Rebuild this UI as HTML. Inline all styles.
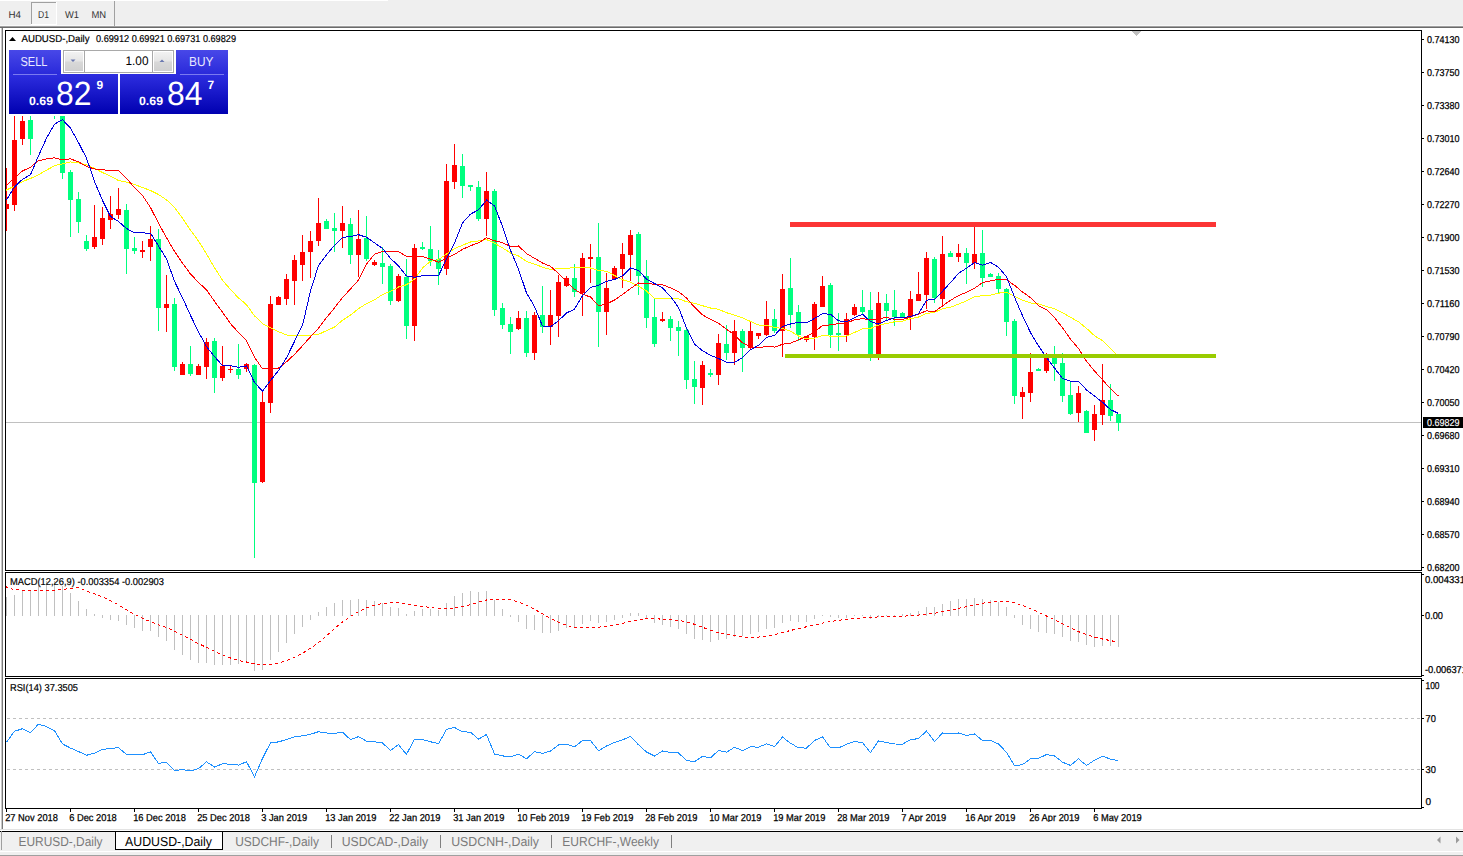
<!DOCTYPE html><html><head><meta charset="utf-8"><title>MT4</title><style>html,body{margin:0;padding:0;width:1463px;height:856px;overflow:hidden;background:#fff}svg text{font-family:"Liberation Sans",sans-serif}</style></head><body>
<svg width="1463" height="856" style="position:absolute;left:0;top:0;display:block" shape-rendering="crispEdges" text-rendering="geometricPrecision">
<rect x="0" y="0" width="1463" height="26" fill="#EFEFEF"/>
<rect x="0" y="0" width="388" height="1" fill="#FFFFFF"/>
<rect x="0" y="25" width="1463" height="1" fill="#F8F8F8"/>
<rect x="0" y="26" width="1463" height="1" fill="#A0A0A0"/>
<rect x="0" y="27" width="1463" height="1" fill="#6A6A6A"/>
<rect x="31" y="2" width="26" height="23" fill="#FFFFFF"/>
<rect x="32" y="3" width="24" height="21" fill="#F3F3F3"/>
<rect x="31" y="2" width="25" height="1" fill="#A0A0A0"/>
<rect x="31" y="2" width="1" height="22" fill="#A0A0A0"/>
<rect x="114" y="1" width="1" height="25" fill="#A0A0A0"/>
<text x="8.5" y="18" font-size="10" fill="#333333" textLength="12.5" lengthAdjust="spacingAndGlyphs">H4</text>
<text x="38" y="18" font-size="10" fill="#333333" textLength="11" lengthAdjust="spacingAndGlyphs">D1</text>
<text x="65" y="18" font-size="10" fill="#333333" textLength="14" lengthAdjust="spacingAndGlyphs">W1</text>
<text x="91.5" y="18" font-size="10" fill="#333333" textLength="14.7" lengthAdjust="spacingAndGlyphs">MN</text>
<rect x="1" y="28" width="1" height="801" fill="#C8C8C8"/>
<rect x="2" y="28" width="1" height="801" fill="#7A7A7A"/>
<rect x="5" y="30" width="1417" height="1" fill="#000"/>
<rect x="5" y="570" width="1417" height="1" fill="#000"/>
<rect x="5" y="30" width="1" height="541" fill="#000"/>
<rect x="1421" y="30" width="1" height="541" fill="#000"/>
<rect x="5" y="572" width="1417" height="1" fill="#000"/>
<rect x="5" y="676" width="1417" height="1" fill="#000"/>
<rect x="5" y="572" width="1" height="105" fill="#000"/>
<rect x="1421" y="572" width="1" height="105" fill="#000"/>
<rect x="5" y="678" width="1417" height="1" fill="#000"/>
<rect x="5" y="808" width="1417" height="1" fill="#000"/>
<rect x="5" y="678" width="1" height="131" fill="#000"/>
<rect x="1421" y="678" width="1" height="131" fill="#000"/>
<rect x="1422" y="39" width="2" height="1" fill="#000"/>
<text x="1427" y="43" font-size="10" fill="#000" stroke="#000" stroke-width="0.25" textLength="32.5" lengthAdjust="spacingAndGlyphs">0.74130</text>
<rect x="1422" y="72" width="2" height="1" fill="#000"/>
<text x="1427" y="76" font-size="10" fill="#000" stroke="#000" stroke-width="0.25" textLength="32.5" lengthAdjust="spacingAndGlyphs">0.73750</text>
<rect x="1422" y="105" width="2" height="1" fill="#000"/>
<text x="1427" y="109" font-size="10" fill="#000" stroke="#000" stroke-width="0.25" textLength="32.5" lengthAdjust="spacingAndGlyphs">0.73380</text>
<rect x="1422" y="138" width="2" height="1" fill="#000"/>
<text x="1427" y="142" font-size="10" fill="#000" stroke="#000" stroke-width="0.25" textLength="32.5" lengthAdjust="spacingAndGlyphs">0.73010</text>
<rect x="1422" y="171" width="2" height="1" fill="#000"/>
<text x="1427" y="175" font-size="10" fill="#000" stroke="#000" stroke-width="0.25" textLength="32.5" lengthAdjust="spacingAndGlyphs">0.72640</text>
<rect x="1422" y="204" width="2" height="1" fill="#000"/>
<text x="1427" y="208" font-size="10" fill="#000" stroke="#000" stroke-width="0.25" textLength="32.5" lengthAdjust="spacingAndGlyphs">0.72270</text>
<rect x="1422" y="237" width="2" height="1" fill="#000"/>
<text x="1427" y="241" font-size="10" fill="#000" stroke="#000" stroke-width="0.25" textLength="32.5" lengthAdjust="spacingAndGlyphs">0.71900</text>
<rect x="1422" y="270" width="2" height="1" fill="#000"/>
<text x="1427" y="274" font-size="10" fill="#000" stroke="#000" stroke-width="0.25" textLength="32.5" lengthAdjust="spacingAndGlyphs">0.71530</text>
<rect x="1422" y="303" width="2" height="1" fill="#000"/>
<text x="1427" y="307" font-size="10" fill="#000" stroke="#000" stroke-width="0.25" textLength="32.5" lengthAdjust="spacingAndGlyphs">0.71160</text>
<rect x="1422" y="336" width="2" height="1" fill="#000"/>
<text x="1427" y="340" font-size="10" fill="#000" stroke="#000" stroke-width="0.25" textLength="32.5" lengthAdjust="spacingAndGlyphs">0.70790</text>
<rect x="1422" y="369" width="2" height="1" fill="#000"/>
<text x="1427" y="373" font-size="10" fill="#000" stroke="#000" stroke-width="0.25" textLength="32.5" lengthAdjust="spacingAndGlyphs">0.70420</text>
<rect x="1422" y="402" width="2" height="1" fill="#000"/>
<text x="1427" y="406" font-size="10" fill="#000" stroke="#000" stroke-width="0.25" textLength="32.5" lengthAdjust="spacingAndGlyphs">0.70050</text>
<rect x="1422" y="435" width="2" height="1" fill="#000"/>
<text x="1427" y="439" font-size="10" fill="#000" stroke="#000" stroke-width="0.25" textLength="32.5" lengthAdjust="spacingAndGlyphs">0.69680</text>
<rect x="1422" y="468" width="2" height="1" fill="#000"/>
<text x="1427" y="472" font-size="10" fill="#000" stroke="#000" stroke-width="0.25" textLength="32.5" lengthAdjust="spacingAndGlyphs">0.69310</text>
<rect x="1422" y="501" width="2" height="1" fill="#000"/>
<text x="1427" y="505" font-size="10" fill="#000" stroke="#000" stroke-width="0.25" textLength="32.5" lengthAdjust="spacingAndGlyphs">0.68940</text>
<rect x="1422" y="534" width="2" height="1" fill="#000"/>
<text x="1427" y="538" font-size="10" fill="#000" stroke="#000" stroke-width="0.25" textLength="32.5" lengthAdjust="spacingAndGlyphs">0.68570</text>
<rect x="1422" y="567" width="2" height="1" fill="#000"/>
<text x="1427" y="571" font-size="10" fill="#000" stroke="#000" stroke-width="0.25" textLength="32.5" lengthAdjust="spacingAndGlyphs">0.68200</text>
<rect x="6" y="422" width="1415" height="1" fill="#C0C0C0"/>
<rect x="1423" y="417" width="40" height="11" fill="#000"/>
<text x="1427" y="426" font-size="10" fill="#fff" stroke="#fff" stroke-width="0.15" textLength="32.5" lengthAdjust="spacingAndGlyphs">0.69829</text>
<rect x="1422" y="574" width="2" height="1" fill="#000"/>
<rect x="1422" y="615" width="2" height="1" fill="#000"/>
<rect x="1422" y="675" width="2" height="1" fill="#000"/>
<text x="1425" y="583" font-size="10" fill="#000" stroke="#000" stroke-width="0.25" textLength="40" lengthAdjust="spacingAndGlyphs">0.004331</text>
<text x="1425" y="619" font-size="10" fill="#000" stroke="#000" stroke-width="0.25" textLength="18" lengthAdjust="spacingAndGlyphs">0.00</text>
<text x="1425" y="673" font-size="10" fill="#000" stroke="#000" stroke-width="0.25" textLength="42" lengthAdjust="spacingAndGlyphs">-0.006371</text>
<rect x="1422" y="680" width="2" height="1" fill="#000"/>
<rect x="1422" y="718" width="2" height="1" fill="#000"/>
<rect x="1422" y="769" width="2" height="1" fill="#000"/>
<rect x="1422" y="807" width="2" height="1" fill="#000"/>
<text x="1425.5" y="689" font-size="10" fill="#000" stroke="#000" stroke-width="0.25" textLength="14" lengthAdjust="spacingAndGlyphs">100</text>
<text x="1425.5" y="722" font-size="10" fill="#000" stroke="#000" stroke-width="0.25" textLength="10.34" lengthAdjust="spacingAndGlyphs">70</text>
<text x="1425.5" y="773" font-size="10" fill="#000" stroke="#000" stroke-width="0.25" textLength="10.34" lengthAdjust="spacingAndGlyphs">30</text>
<text x="1425.5" y="805" font-size="10" fill="#000" stroke="#000" stroke-width="0.25">0</text>
<rect x="6" y="809" width="1" height="3" fill="#000"/>
<text x="5.2" y="821" font-size="10" fill="#000" stroke="#000" stroke-width="0.25" textLength="52.74" lengthAdjust="spacingAndGlyphs">27 Nov 2018</text>
<rect x="70" y="809" width="1" height="3" fill="#000"/>
<text x="69.2" y="821" font-size="10" fill="#000" stroke="#000" stroke-width="0.25" textLength="47.56" lengthAdjust="spacingAndGlyphs">6 Dec 2018</text>
<rect x="134" y="809" width="1" height="3" fill="#000"/>
<text x="133.2" y="821" font-size="10" fill="#000" stroke="#000" stroke-width="0.25" textLength="52.74" lengthAdjust="spacingAndGlyphs">16 Dec 2018</text>
<rect x="198" y="809" width="1" height="3" fill="#000"/>
<text x="197.2" y="821" font-size="10" fill="#000" stroke="#000" stroke-width="0.25" textLength="52.74" lengthAdjust="spacingAndGlyphs">25 Dec 2018</text>
<rect x="262" y="809" width="1" height="3" fill="#000"/>
<text x="261.2" y="821" font-size="10" fill="#000" stroke="#000" stroke-width="0.25" textLength="46.02" lengthAdjust="spacingAndGlyphs">3 Jan 2019</text>
<rect x="326" y="809" width="1" height="3" fill="#000"/>
<text x="325.2" y="821" font-size="10" fill="#000" stroke="#000" stroke-width="0.25" textLength="51.19" lengthAdjust="spacingAndGlyphs">13 Jan 2019</text>
<rect x="390" y="809" width="1" height="3" fill="#000"/>
<text x="389.2" y="821" font-size="10" fill="#000" stroke="#000" stroke-width="0.25" textLength="51.19" lengthAdjust="spacingAndGlyphs">22 Jan 2019</text>
<rect x="454" y="809" width="1" height="3" fill="#000"/>
<text x="453.2" y="821" font-size="10" fill="#000" stroke="#000" stroke-width="0.25" textLength="51.19" lengthAdjust="spacingAndGlyphs">31 Jan 2019</text>
<rect x="518" y="809" width="1" height="3" fill="#000"/>
<text x="517.2" y="821" font-size="10" fill="#000" stroke="#000" stroke-width="0.25" textLength="52.22" lengthAdjust="spacingAndGlyphs">10 Feb 2019</text>
<rect x="582" y="809" width="1" height="3" fill="#000"/>
<text x="581.2" y="821" font-size="10" fill="#000" stroke="#000" stroke-width="0.25" textLength="52.22" lengthAdjust="spacingAndGlyphs">19 Feb 2019</text>
<rect x="646" y="809" width="1" height="3" fill="#000"/>
<text x="645.2" y="821" font-size="10" fill="#000" stroke="#000" stroke-width="0.25" textLength="52.22" lengthAdjust="spacingAndGlyphs">28 Feb 2019</text>
<rect x="710" y="809" width="1" height="3" fill="#000"/>
<text x="709.2" y="821" font-size="10" fill="#000" stroke="#000" stroke-width="0.25" textLength="52.21" lengthAdjust="spacingAndGlyphs">10 Mar 2019</text>
<rect x="774" y="809" width="1" height="3" fill="#000"/>
<text x="773.2" y="821" font-size="10" fill="#000" stroke="#000" stroke-width="0.25" textLength="52.21" lengthAdjust="spacingAndGlyphs">19 Mar 2019</text>
<rect x="838" y="809" width="1" height="3" fill="#000"/>
<text x="837.2" y="821" font-size="10" fill="#000" stroke="#000" stroke-width="0.25" textLength="52.21" lengthAdjust="spacingAndGlyphs">28 Mar 2019</text>
<rect x="902" y="809" width="1" height="3" fill="#000"/>
<text x="901.2" y="821" font-size="10" fill="#000" stroke="#000" stroke-width="0.25" textLength="44.98" lengthAdjust="spacingAndGlyphs">7 Apr 2019</text>
<rect x="966" y="809" width="1" height="3" fill="#000"/>
<text x="965.2" y="821" font-size="10" fill="#000" stroke="#000" stroke-width="0.25" textLength="50.16" lengthAdjust="spacingAndGlyphs">16 Apr 2019</text>
<rect x="1030" y="809" width="1" height="3" fill="#000"/>
<text x="1029.2" y="821" font-size="10" fill="#000" stroke="#000" stroke-width="0.25" textLength="50.16" lengthAdjust="spacingAndGlyphs">26 Apr 2019</text>
<rect x="1094" y="809" width="1" height="3" fill="#000"/>
<text x="1093.2" y="821" font-size="10" fill="#000" stroke="#000" stroke-width="0.25" textLength="48.59" lengthAdjust="spacingAndGlyphs">6 May 2019</text>
<defs><clipPath id="cm"><rect x="6" y="31" width="1415" height="539"/></clipPath><clipPath id="cd"><rect x="6" y="573" width="1415" height="103"/></clipPath><clipPath id="cr"><rect x="6" y="679" width="1415" height="129"/></clipPath></defs>
<g clip-path="url(#cm)">
<rect x="6" y="168" width="1" height="63" fill="#FF0000"/>
<rect x="4" y="204" width="5" height="5" fill="#FF0000"/>
<rect x="14" y="110" width="1" height="101" fill="#FF0000"/>
<rect x="12" y="140" width="5" height="65" fill="#FF0000"/>
<rect x="22" y="108" width="1" height="37" fill="#FF0000"/>
<rect x="20" y="121" width="5" height="18" fill="#FF0000"/>
<rect x="30" y="112" width="1" height="43" fill="#00FF7F"/>
<rect x="28" y="120" width="5" height="19" fill="#00FF7F"/>
<rect x="38" y="65" width="1" height="48" fill="#FF0000"/>
<rect x="36" y="74" width="5" height="37" fill="#FF0000"/>
<rect x="46" y="60" width="1" height="31" fill="#00FF7F"/>
<rect x="44" y="74" width="5" height="11" fill="#00FF7F"/>
<rect x="54" y="80" width="1" height="39" fill="#00FF7F"/>
<rect x="52" y="85" width="5" height="18" fill="#00FF7F"/>
<rect x="62" y="98" width="1" height="81" fill="#00FF7F"/>
<rect x="60" y="103" width="5" height="70" fill="#00FF7F"/>
<rect x="70" y="170" width="1" height="67" fill="#00FF7F"/>
<rect x="68" y="172" width="5" height="28" fill="#00FF7F"/>
<rect x="78" y="192" width="1" height="41" fill="#00FF7F"/>
<rect x="76" y="199" width="5" height="23" fill="#00FF7F"/>
<rect x="86" y="235" width="1" height="16" fill="#00FF7F"/>
<rect x="84" y="241" width="5" height="8" fill="#00FF7F"/>
<rect x="94" y="205" width="1" height="44" fill="#FF0000"/>
<rect x="92" y="237" width="5" height="10" fill="#FF0000"/>
<rect x="102" y="207" width="1" height="38" fill="#FF0000"/>
<rect x="100" y="218" width="5" height="21" fill="#FF0000"/>
<rect x="110" y="196" width="1" height="33" fill="#FF0000"/>
<rect x="108" y="214" width="5" height="6" fill="#FF0000"/>
<rect x="118" y="188" width="1" height="31" fill="#FF0000"/>
<rect x="116" y="209" width="5" height="6" fill="#FF0000"/>
<rect x="126" y="204" width="1" height="70" fill="#00FF7F"/>
<rect x="124" y="210" width="5" height="39" fill="#00FF7F"/>
<rect x="134" y="237" width="1" height="17" fill="#00FF7F"/>
<rect x="132" y="248" width="5" height="3" fill="#00FF7F"/>
<rect x="142" y="241" width="1" height="17" fill="#FF0000"/>
<rect x="140" y="250" width="5" height="2" fill="#FF0000"/>
<rect x="150" y="226" width="1" height="35" fill="#FF0000"/>
<rect x="148" y="239" width="5" height="8" fill="#FF0000"/>
<rect x="158" y="229" width="1" height="102" fill="#00FF7F"/>
<rect x="156" y="239" width="5" height="69" fill="#00FF7F"/>
<rect x="166" y="275" width="1" height="57" fill="#FF0000"/>
<rect x="164" y="304" width="5" height="4" fill="#FF0000"/>
<rect x="174" y="298" width="1" height="73" fill="#00FF7F"/>
<rect x="172" y="304" width="5" height="63" fill="#00FF7F"/>
<rect x="182" y="362" width="1" height="13" fill="#FF0000"/>
<rect x="180" y="364" width="5" height="11" fill="#FF0000"/>
<rect x="190" y="346" width="1" height="30" fill="#00FF7F"/>
<rect x="188" y="364" width="5" height="10" fill="#00FF7F"/>
<rect x="198" y="364" width="1" height="11" fill="#FF0000"/>
<rect x="196" y="366" width="5" height="9" fill="#FF0000"/>
<rect x="206" y="338" width="1" height="41" fill="#FF0000"/>
<rect x="204" y="342" width="5" height="25" fill="#FF0000"/>
<rect x="214" y="338" width="1" height="55" fill="#00FF7F"/>
<rect x="212" y="341" width="5" height="37" fill="#00FF7F"/>
<rect x="222" y="346" width="1" height="35" fill="#FF0000"/>
<rect x="220" y="366" width="5" height="12" fill="#FF0000"/>
<rect x="230" y="365" width="1" height="8" fill="#FF0000"/>
<rect x="228" y="369" width="5" height="1" fill="#FF0000"/>
<rect x="238" y="344" width="1" height="35" fill="#00FF7F"/>
<rect x="236" y="369" width="5" height="6" fill="#00FF7F"/>
<rect x="246" y="363" width="1" height="9" fill="#FF0000"/>
<rect x="244" y="364" width="5" height="5" fill="#FF0000"/>
<rect x="254" y="364" width="1" height="194" fill="#00FF7F"/>
<rect x="252" y="365" width="5" height="118" fill="#00FF7F"/>
<rect x="262" y="390" width="1" height="93" fill="#FF0000"/>
<rect x="260" y="402" width="5" height="80" fill="#FF0000"/>
<rect x="270" y="296" width="1" height="117" fill="#FF0000"/>
<rect x="268" y="304" width="5" height="99" fill="#FF0000"/>
<rect x="278" y="296" width="1" height="9" fill="#FF0000"/>
<rect x="276" y="297" width="5" height="8" fill="#FF0000"/>
<rect x="286" y="274" width="1" height="31" fill="#FF0000"/>
<rect x="284" y="279" width="5" height="20" fill="#FF0000"/>
<rect x="294" y="255" width="1" height="50" fill="#FF0000"/>
<rect x="292" y="260" width="5" height="21" fill="#FF0000"/>
<rect x="302" y="235" width="1" height="46" fill="#FF0000"/>
<rect x="300" y="252" width="5" height="13" fill="#FF0000"/>
<rect x="310" y="231" width="1" height="47" fill="#FF0000"/>
<rect x="308" y="241" width="5" height="11" fill="#FF0000"/>
<rect x="318" y="198" width="1" height="48" fill="#FF0000"/>
<rect x="316" y="223" width="5" height="18" fill="#FF0000"/>
<rect x="326" y="219" width="1" height="10" fill="#00FF7F"/>
<rect x="324" y="221" width="5" height="8" fill="#00FF7F"/>
<rect x="334" y="213" width="1" height="39" fill="#00FF7F"/>
<rect x="332" y="228" width="5" height="3" fill="#00FF7F"/>
<rect x="342" y="206" width="1" height="42" fill="#FF0000"/>
<rect x="340" y="223" width="5" height="8" fill="#FF0000"/>
<rect x="350" y="218" width="1" height="46" fill="#00FF7F"/>
<rect x="348" y="224" width="5" height="31" fill="#00FF7F"/>
<rect x="358" y="210" width="1" height="67" fill="#FF0000"/>
<rect x="356" y="239" width="5" height="16" fill="#FF0000"/>
<rect x="366" y="216" width="1" height="45" fill="#00FF7F"/>
<rect x="364" y="238" width="5" height="21" fill="#00FF7F"/>
<rect x="374" y="260" width="1" height="6" fill="#FF0000"/>
<rect x="372" y="262" width="5" height="3" fill="#FF0000"/>
<rect x="382" y="247" width="1" height="37" fill="#00FF7F"/>
<rect x="380" y="263" width="5" height="4" fill="#00FF7F"/>
<rect x="390" y="264" width="1" height="41" fill="#00FF7F"/>
<rect x="388" y="266" width="5" height="35" fill="#00FF7F"/>
<rect x="398" y="274" width="1" height="28" fill="#FF0000"/>
<rect x="396" y="276" width="5" height="25" fill="#FF0000"/>
<rect x="406" y="259" width="1" height="80" fill="#00FF7F"/>
<rect x="404" y="277" width="5" height="49" fill="#00FF7F"/>
<rect x="414" y="244" width="1" height="97" fill="#FF0000"/>
<rect x="412" y="248" width="5" height="78" fill="#FF0000"/>
<rect x="422" y="242" width="1" height="8" fill="#00FF7F"/>
<rect x="420" y="247" width="5" height="2" fill="#00FF7F"/>
<rect x="430" y="226" width="1" height="40" fill="#00FF7F"/>
<rect x="428" y="249" width="5" height="12" fill="#00FF7F"/>
<rect x="438" y="250" width="1" height="35" fill="#00FF7F"/>
<rect x="436" y="259" width="5" height="10" fill="#00FF7F"/>
<rect x="446" y="164" width="1" height="111" fill="#FF0000"/>
<rect x="444" y="181" width="5" height="88" fill="#FF0000"/>
<rect x="454" y="144" width="1" height="45" fill="#FF0000"/>
<rect x="452" y="165" width="5" height="17" fill="#FF0000"/>
<rect x="462" y="154" width="1" height="44" fill="#00FF7F"/>
<rect x="460" y="166" width="5" height="20" fill="#00FF7F"/>
<rect x="470" y="185" width="1" height="6" fill="#00FF7F"/>
<rect x="468" y="185" width="5" height="2" fill="#00FF7F"/>
<rect x="478" y="181" width="1" height="40" fill="#00FF7F"/>
<rect x="476" y="187" width="5" height="32" fill="#00FF7F"/>
<rect x="486" y="172" width="1" height="64" fill="#FF0000"/>
<rect x="484" y="191" width="5" height="28" fill="#FF0000"/>
<rect x="494" y="189" width="1" height="127" fill="#00FF7F"/>
<rect x="492" y="191" width="5" height="119" fill="#00FF7F"/>
<rect x="502" y="303" width="1" height="26" fill="#00FF7F"/>
<rect x="500" y="308" width="5" height="17" fill="#00FF7F"/>
<rect x="510" y="317" width="1" height="37" fill="#00FF7F"/>
<rect x="508" y="324" width="5" height="8" fill="#00FF7F"/>
<rect x="518" y="311" width="1" height="19" fill="#FF0000"/>
<rect x="516" y="318" width="5" height="11" fill="#FF0000"/>
<rect x="526" y="311" width="1" height="46" fill="#00FF7F"/>
<rect x="524" y="318" width="5" height="35" fill="#00FF7F"/>
<rect x="534" y="312" width="1" height="48" fill="#FF0000"/>
<rect x="532" y="315" width="5" height="38" fill="#FF0000"/>
<rect x="542" y="286" width="1" height="47" fill="#00FF7F"/>
<rect x="540" y="315" width="5" height="12" fill="#00FF7F"/>
<rect x="550" y="290" width="1" height="55" fill="#FF0000"/>
<rect x="548" y="315" width="5" height="12" fill="#FF0000"/>
<rect x="558" y="275" width="1" height="62" fill="#FF0000"/>
<rect x="556" y="282" width="5" height="34" fill="#FF0000"/>
<rect x="566" y="276" width="1" height="11" fill="#FF0000"/>
<rect x="564" y="278" width="5" height="8" fill="#FF0000"/>
<rect x="574" y="264" width="1" height="33" fill="#00FF7F"/>
<rect x="572" y="278" width="5" height="14" fill="#00FF7F"/>
<rect x="582" y="253" width="1" height="63" fill="#FF0000"/>
<rect x="580" y="258" width="5" height="35" fill="#FF0000"/>
<rect x="590" y="244" width="1" height="39" fill="#FF0000"/>
<rect x="588" y="257" width="5" height="2" fill="#FF0000"/>
<rect x="598" y="223" width="1" height="124" fill="#00FF7F"/>
<rect x="596" y="257" width="5" height="55" fill="#00FF7F"/>
<rect x="606" y="273" width="1" height="62" fill="#FF0000"/>
<rect x="604" y="288" width="5" height="24" fill="#FF0000"/>
<rect x="614" y="266" width="1" height="13" fill="#FF0000"/>
<rect x="612" y="268" width="5" height="11" fill="#FF0000"/>
<rect x="622" y="243" width="1" height="45" fill="#FF0000"/>
<rect x="620" y="254" width="5" height="15" fill="#FF0000"/>
<rect x="630" y="230" width="1" height="51" fill="#FF0000"/>
<rect x="628" y="235" width="5" height="20" fill="#FF0000"/>
<rect x="638" y="232" width="1" height="63" fill="#00FF7F"/>
<rect x="636" y="234" width="5" height="42" fill="#00FF7F"/>
<rect x="646" y="260" width="1" height="68" fill="#00FF7F"/>
<rect x="644" y="276" width="5" height="42" fill="#00FF7F"/>
<rect x="654" y="299" width="1" height="48" fill="#00FF7F"/>
<rect x="652" y="317" width="5" height="27" fill="#00FF7F"/>
<rect x="662" y="312" width="1" height="10" fill="#FF0000"/>
<rect x="660" y="319" width="5" height="2" fill="#FF0000"/>
<rect x="670" y="316" width="1" height="25" fill="#00FF7F"/>
<rect x="668" y="319" width="5" height="9" fill="#00FF7F"/>
<rect x="678" y="321" width="1" height="35" fill="#00FF7F"/>
<rect x="676" y="327" width="5" height="4" fill="#00FF7F"/>
<rect x="686" y="328" width="1" height="61" fill="#00FF7F"/>
<rect x="684" y="330" width="5" height="50" fill="#00FF7F"/>
<rect x="694" y="361" width="1" height="43" fill="#00FF7F"/>
<rect x="692" y="379" width="5" height="8" fill="#00FF7F"/>
<rect x="702" y="361" width="1" height="44" fill="#FF0000"/>
<rect x="700" y="365" width="5" height="23" fill="#FF0000"/>
<rect x="710" y="369" width="1" height="8" fill="#00FF7F"/>
<rect x="708" y="373" width="5" height="2" fill="#00FF7F"/>
<rect x="718" y="334" width="1" height="51" fill="#FF0000"/>
<rect x="716" y="343" width="5" height="32" fill="#FF0000"/>
<rect x="726" y="325" width="1" height="35" fill="#00FF7F"/>
<rect x="724" y="344" width="5" height="9" fill="#00FF7F"/>
<rect x="734" y="320" width="1" height="45" fill="#FF0000"/>
<rect x="732" y="331" width="5" height="22" fill="#FF0000"/>
<rect x="742" y="329" width="1" height="43" fill="#00FF7F"/>
<rect x="740" y="331" width="5" height="17" fill="#00FF7F"/>
<rect x="750" y="322" width="1" height="28" fill="#FF0000"/>
<rect x="748" y="331" width="5" height="17" fill="#FF0000"/>
<rect x="758" y="333" width="1" height="6" fill="#FF0000"/>
<rect x="756" y="333" width="5" height="3" fill="#FF0000"/>
<rect x="766" y="301" width="1" height="35" fill="#FF0000"/>
<rect x="764" y="319" width="5" height="16" fill="#FF0000"/>
<rect x="774" y="309" width="1" height="24" fill="#00FF7F"/>
<rect x="772" y="319" width="5" height="12" fill="#00FF7F"/>
<rect x="782" y="274" width="1" height="83" fill="#FF0000"/>
<rect x="780" y="289" width="5" height="42" fill="#FF0000"/>
<rect x="790" y="258" width="1" height="70" fill="#00FF7F"/>
<rect x="788" y="288" width="5" height="27" fill="#00FF7F"/>
<rect x="798" y="305" width="1" height="36" fill="#00FF7F"/>
<rect x="796" y="312" width="5" height="23" fill="#00FF7F"/>
<rect x="806" y="336" width="1" height="6" fill="#FF0000"/>
<rect x="804" y="336" width="5" height="4" fill="#FF0000"/>
<rect x="814" y="302" width="1" height="48" fill="#FF0000"/>
<rect x="812" y="304" width="5" height="33" fill="#FF0000"/>
<rect x="822" y="276" width="1" height="31" fill="#FF0000"/>
<rect x="820" y="286" width="5" height="21" fill="#FF0000"/>
<rect x="830" y="283" width="1" height="65" fill="#00FF7F"/>
<rect x="828" y="285" width="5" height="50" fill="#00FF7F"/>
<rect x="838" y="313" width="1" height="38" fill="#00FF7F"/>
<rect x="836" y="333" width="5" height="2" fill="#00FF7F"/>
<rect x="846" y="313" width="1" height="29" fill="#FF0000"/>
<rect x="844" y="319" width="5" height="16" fill="#FF0000"/>
<rect x="854" y="304" width="1" height="12" fill="#FF0000"/>
<rect x="852" y="307" width="5" height="8" fill="#FF0000"/>
<rect x="862" y="290" width="1" height="24" fill="#00FF7F"/>
<rect x="860" y="307" width="5" height="5" fill="#00FF7F"/>
<rect x="870" y="292" width="1" height="69" fill="#00FF7F"/>
<rect x="868" y="310" width="5" height="45" fill="#00FF7F"/>
<rect x="878" y="292" width="1" height="68" fill="#FF0000"/>
<rect x="876" y="303" width="5" height="52" fill="#FF0000"/>
<rect x="886" y="294" width="1" height="27" fill="#00FF7F"/>
<rect x="884" y="303" width="5" height="8" fill="#00FF7F"/>
<rect x="894" y="290" width="1" height="36" fill="#00FF7F"/>
<rect x="892" y="310" width="5" height="7" fill="#00FF7F"/>
<rect x="902" y="312" width="1" height="6" fill="#00FF7F"/>
<rect x="900" y="313" width="5" height="5" fill="#00FF7F"/>
<rect x="910" y="291" width="1" height="39" fill="#FF0000"/>
<rect x="908" y="299" width="5" height="18" fill="#FF0000"/>
<rect x="918" y="272" width="1" height="29" fill="#FF0000"/>
<rect x="916" y="294" width="5" height="7" fill="#FF0000"/>
<rect x="926" y="252" width="1" height="57" fill="#FF0000"/>
<rect x="924" y="258" width="5" height="37" fill="#FF0000"/>
<rect x="934" y="257" width="1" height="46" fill="#00FF7F"/>
<rect x="932" y="259" width="5" height="39" fill="#00FF7F"/>
<rect x="942" y="236" width="1" height="70" fill="#FF0000"/>
<rect x="940" y="254" width="5" height="45" fill="#FF0000"/>
<rect x="950" y="251" width="1" height="6" fill="#00FF7F"/>
<rect x="948" y="253" width="5" height="4" fill="#00FF7F"/>
<rect x="958" y="244" width="1" height="18" fill="#FF0000"/>
<rect x="956" y="253" width="5" height="4" fill="#FF0000"/>
<rect x="966" y="248" width="1" height="36" fill="#00FF7F"/>
<rect x="964" y="253" width="5" height="10" fill="#00FF7F"/>
<rect x="974" y="227" width="1" height="42" fill="#FF0000"/>
<rect x="972" y="254" width="5" height="9" fill="#FF0000"/>
<rect x="982" y="230" width="1" height="57" fill="#00FF7F"/>
<rect x="980" y="253" width="5" height="25" fill="#00FF7F"/>
<rect x="990" y="273" width="1" height="4" fill="#00FF7F"/>
<rect x="988" y="274" width="5" height="3" fill="#00FF7F"/>
<rect x="998" y="273" width="1" height="21" fill="#00FF7F"/>
<rect x="996" y="276" width="5" height="13" fill="#00FF7F"/>
<rect x="1006" y="288" width="1" height="48" fill="#00FF7F"/>
<rect x="1004" y="289" width="5" height="33" fill="#00FF7F"/>
<rect x="1014" y="319" width="1" height="85" fill="#00FF7F"/>
<rect x="1012" y="321" width="5" height="75" fill="#00FF7F"/>
<rect x="1022" y="387" width="1" height="32" fill="#FF0000"/>
<rect x="1020" y="392" width="5" height="5" fill="#FF0000"/>
<rect x="1030" y="353" width="1" height="49" fill="#FF0000"/>
<rect x="1028" y="372" width="5" height="21" fill="#FF0000"/>
<rect x="1038" y="368" width="1" height="3" fill="#00FF7F"/>
<rect x="1036" y="369" width="5" height="2" fill="#00FF7F"/>
<rect x="1046" y="353" width="1" height="20" fill="#FF0000"/>
<rect x="1044" y="357" width="5" height="14" fill="#FF0000"/>
<rect x="1054" y="346" width="1" height="35" fill="#00FF7F"/>
<rect x="1052" y="356" width="5" height="8" fill="#00FF7F"/>
<rect x="1062" y="353" width="1" height="49" fill="#00FF7F"/>
<rect x="1060" y="363" width="5" height="33" fill="#00FF7F"/>
<rect x="1070" y="381" width="1" height="34" fill="#00FF7F"/>
<rect x="1068" y="395" width="5" height="19" fill="#00FF7F"/>
<rect x="1078" y="386" width="1" height="36" fill="#FF0000"/>
<rect x="1076" y="393" width="5" height="20" fill="#FF0000"/>
<rect x="1086" y="410" width="1" height="23" fill="#00FF7F"/>
<rect x="1084" y="411" width="5" height="22" fill="#00FF7F"/>
<rect x="1094" y="405" width="1" height="36" fill="#FF0000"/>
<rect x="1092" y="414" width="5" height="16" fill="#FF0000"/>
<rect x="1102" y="364" width="1" height="61" fill="#FF0000"/>
<rect x="1100" y="400" width="5" height="15" fill="#FF0000"/>
<rect x="1110" y="384" width="1" height="37" fill="#00FF7F"/>
<rect x="1108" y="400" width="5" height="16" fill="#00FF7F"/>
<rect x="1118" y="414" width="1" height="17" fill="#00FF7F"/>
<rect x="1116" y="414" width="5" height="9" fill="#00FF7F"/>
<polyline points="6.5,189.9 14.5,186.2 22.5,181.5 30.5,178.5 38.5,174.8 46.5,170.2 54.5,165.7 62.5,163.8 70.5,161.9 78.5,162.9 86.5,164.9 94.5,168.4 102.5,172.5 110.5,176.3 118.5,180.5 126.5,182.1 134.5,184.5 142.5,187.5 150.5,190.5 158.5,194.5 166.5,199.8 174.5,207.5 182.5,218.2 190.5,230.2 198.5,241.0 206.5,253.8 214.5,267.7 222.5,280.2 230.5,289.6 238.5,297.9 246.5,304.7 254.5,315.8 262.5,323.6 270.5,327.7 278.5,331.7 286.5,335.0 294.5,335.5 302.5,335.6 310.5,335.2 318.5,334.4 326.5,330.6 334.5,327.1 342.5,320.3 350.5,315.1 358.5,308.7 366.5,303.6 374.5,299.8 382.5,294.5 390.5,291.4 398.5,287.0 406.5,284.7 414.5,279.2 422.5,268.0 430.5,261.3 438.5,259.6 446.5,254.1 454.5,248.7 462.5,245.2 470.5,242.0 478.5,241.0 486.5,239.5 494.5,243.3 502.5,247.8 510.5,253.0 518.5,256.0 526.5,261.4 534.5,264.1 542.5,267.2 550.5,269.5 558.5,268.6 566.5,268.7 574.5,267.1 582.5,267.6 590.5,268.0 598.5,270.4 606.5,271.3 614.5,275.5 622.5,279.7 630.5,282.1 638.5,286.3 646.5,291.0 654.5,298.3 662.5,298.7 670.5,298.8 678.5,298.8 686.5,301.7 694.5,303.3 702.5,305.7 710.5,308.0 718.5,309.3 726.5,312.7 734.5,315.2 742.5,317.9 750.5,321.4 758.5,325.0 766.5,325.4 774.5,327.4 782.5,328.4 790.5,331.2 798.5,336.0 806.5,338.9 814.5,338.2 822.5,335.4 830.5,336.2 838.5,336.5 846.5,336.0 854.5,332.5 862.5,328.9 870.5,328.4 878.5,325.0 886.5,323.5 894.5,321.8 902.5,321.1 910.5,318.7 918.5,317.0 926.5,313.4 934.5,312.4 942.5,308.7 950.5,307.2 958.5,304.2 966.5,300.8 974.5,296.9 982.5,295.6 990.5,295.2 998.5,293.1 1006.5,292.4 1014.5,296.1 1022.5,300.1 1030.5,303.0 1038.5,303.8 1046.5,306.4 1054.5,308.9 1062.5,312.7 1070.5,317.3 1078.5,321.8 1086.5,328.3 1094.5,335.7 1102.5,340.6 1110.5,348.3 1118.5,356.3" fill="none" stroke="#FFFF00" stroke-width="1"/>
<polyline points="6.5,185.4 14.5,177.8 22.5,171.0 30.5,167.2 38.5,160.8 46.5,158.8 54.5,157.8 62.5,159.9 70.5,158.8 78.5,161.9 86.5,166.4 94.5,169.0 102.5,169.9 110.5,170.3 118.5,170.6 126.5,178.4 134.5,187.6 142.5,195.6 150.5,207.4 158.5,223.3 166.5,237.6 174.5,251.4 182.5,263.2 190.5,274.0 198.5,282.4 206.5,289.9 214.5,301.3 222.5,312.2 230.5,323.6 238.5,332.6 246.5,340.6 254.5,357.2 262.5,368.9 270.5,368.6 278.5,368.1 286.5,361.8 294.5,354.4 302.5,345.7 310.5,336.8 318.5,328.2 326.5,317.6 334.5,307.9 342.5,297.5 350.5,289.0 358.5,280.1 366.5,264.1 374.5,254.2 382.5,251.5 390.5,251.8 398.5,251.6 406.5,256.3 414.5,256.0 422.5,256.5 430.5,259.2 438.5,262.1 446.5,258.5 454.5,254.4 462.5,249.4 470.5,245.7 478.5,242.9 486.5,237.8 494.5,240.8 502.5,242.6 510.5,246.5 518.5,246.0 526.5,253.5 534.5,258.3 542.5,263.0 550.5,266.3 558.5,273.5 566.5,281.6 574.5,289.2 582.5,294.3 590.5,297.0 598.5,305.6 606.5,304.1 614.5,300.0 622.5,294.5 630.5,288.5 638.5,283.0 646.5,283.2 654.5,284.4 662.5,284.7 670.5,287.9 678.5,291.7 686.5,298.0 694.5,307.2 702.5,314.9 710.5,319.4 718.5,323.3 726.5,329.3 734.5,334.9 742.5,342.9 750.5,346.9 758.5,348.0 766.5,346.3 774.5,347.1 782.5,344.3 790.5,343.1 798.5,339.9 806.5,336.3 814.5,331.9 822.5,325.5 830.5,324.9 838.5,323.7 846.5,322.8 854.5,319.9 862.5,318.5 870.5,320.0 878.5,318.8 886.5,317.4 894.5,319.4 902.5,319.6 910.5,317.1 918.5,314.1 926.5,310.8 934.5,311.7 942.5,305.9 950.5,300.3 958.5,295.5 966.5,292.3 974.5,288.2 982.5,282.7 990.5,280.8 998.5,279.3 1006.5,279.7 1014.5,285.3 1022.5,292.0 1030.5,297.6 1038.5,305.6 1046.5,309.8 1054.5,317.7 1062.5,327.7 1070.5,339.2 1078.5,348.5 1086.5,361.2 1094.5,371.0 1102.5,379.8 1110.5,388.8 1118.5,396.1" fill="none" stroke="#FF0000" stroke-width="1"/>
<polyline points="6.5,199.8 14.5,186.9 22.5,179.3 30.5,174.8 38.5,155.8 46.5,138.3 54.5,124.1 62.5,119.7 70.5,128.2 78.5,142.6 86.5,158.2 94.5,181.5 102.5,200.5 110.5,216.4 118.5,221.5 126.5,228.5 134.5,232.7 142.5,232.9 150.5,233.2 158.5,246.0 166.5,258.8 174.5,281.3 182.5,297.9 190.5,315.4 198.5,331.9 206.5,346.6 214.5,356.6 222.5,365.5 230.5,365.8 238.5,367.3 246.5,365.9 254.5,382.5 262.5,391.1 270.5,380.5 278.5,370.6 286.5,357.8 294.5,341.4 302.5,325.4 310.5,291.0 318.5,265.4 326.5,254.7 334.5,245.3 342.5,237.3 350.5,236.6 358.5,234.7 366.5,237.3 374.5,242.9 382.5,248.3 390.5,258.4 398.5,265.9 406.5,276.0 414.5,277.3 422.5,275.8 430.5,275.5 438.5,275.8 446.5,258.7 454.5,242.9 462.5,222.9 470.5,214.1 478.5,209.9 486.5,200.1 494.5,205.9 502.5,226.4 510.5,250.2 518.5,269.2 526.5,292.9 534.5,306.6 542.5,326.0 550.5,326.8 558.5,320.7 566.5,313.0 574.5,309.2 582.5,295.7 590.5,287.4 598.5,285.3 606.5,281.3 614.5,279.4 622.5,275.9 630.5,267.9 638.5,270.4 646.5,279.0 654.5,283.5 662.5,288.0 670.5,296.5 678.5,307.4 686.5,328.1 694.5,344.0 702.5,350.8 710.5,355.2 718.5,358.6 726.5,362.2 734.5,362.3 742.5,357.7 750.5,349.8 758.5,345.3 766.5,337.4 774.5,335.5 782.5,326.4 790.5,324.0 798.5,322.1 806.5,322.8 814.5,318.5 822.5,313.7 830.5,314.3 838.5,320.9 846.5,321.7 854.5,317.7 862.5,314.2 870.5,321.5 878.5,324.0 886.5,320.5 894.5,317.9 902.5,317.6 910.5,316.5 918.5,313.9 926.5,300.2 934.5,299.4 942.5,291.3 950.5,282.6 958.5,273.4 966.5,268.2 974.5,262.5 982.5,265.3 990.5,262.3 998.5,267.3 1006.5,276.7 1014.5,297.2 1022.5,315.7 1030.5,332.6 1038.5,345.9 1046.5,357.4 1054.5,368.0 1062.5,378.6 1070.5,381.2 1078.5,381.3 1086.5,389.9 1094.5,396.1 1102.5,402.2 1110.5,409.6 1118.5,413.5" fill="none" stroke="#0000DD" stroke-width="1"/>
<line x1="5" y1="191.4" x2="6.5" y2="189.9" stroke="#FFFF00"/>
<rect x="790" y="222" width="426" height="5" fill="#FC3535"/>
<rect x="785" y="354" width="431" height="4" fill="#99CC00"/>
<polygon points="1132,31 1141,31 1136.5,36" fill="#C0C0C0"/>
</g>
<g clip-path="url(#cd)">
<rect x="6" y="597" width="1" height="19" fill="#C0C0C0"/>
<rect x="14" y="595" width="1" height="21" fill="#C0C0C0"/>
<rect x="22" y="591" width="1" height="25" fill="#C0C0C0"/>
<rect x="30" y="590" width="1" height="26" fill="#C0C0C0"/>
<rect x="38" y="585" width="1" height="31" fill="#C0C0C0"/>
<rect x="46" y="581" width="1" height="35" fill="#C0C0C0"/>
<rect x="54" y="581" width="1" height="35" fill="#C0C0C0"/>
<rect x="62" y="586" width="1" height="30" fill="#C0C0C0"/>
<rect x="70" y="593" width="1" height="23" fill="#C0C0C0"/>
<rect x="78" y="601" width="1" height="15" fill="#C0C0C0"/>
<rect x="86" y="609" width="1" height="7" fill="#C0C0C0"/>
<rect x="94" y="614" width="1" height="2" fill="#C0C0C0"/>
<rect x="102" y="615" width="1" height="3" fill="#C0C0C0"/>
<rect x="110" y="615" width="1" height="5" fill="#C0C0C0"/>
<rect x="118" y="615" width="1" height="6" fill="#C0C0C0"/>
<rect x="126" y="615" width="1" height="10" fill="#C0C0C0"/>
<rect x="134" y="615" width="1" height="13" fill="#C0C0C0"/>
<rect x="142" y="615" width="1" height="16" fill="#C0C0C0"/>
<rect x="150" y="615" width="1" height="16" fill="#C0C0C0"/>
<rect x="158" y="615" width="1" height="22" fill="#C0C0C0"/>
<rect x="166" y="615" width="1" height="26" fill="#C0C0C0"/>
<rect x="174" y="615" width="1" height="35" fill="#C0C0C0"/>
<rect x="182" y="615" width="1" height="40" fill="#C0C0C0"/>
<rect x="190" y="615" width="1" height="45" fill="#C0C0C0"/>
<rect x="198" y="615" width="1" height="48" fill="#C0C0C0"/>
<rect x="206" y="615" width="1" height="48" fill="#C0C0C0"/>
<rect x="214" y="615" width="1" height="50" fill="#C0C0C0"/>
<rect x="222" y="615" width="1" height="50" fill="#C0C0C0"/>
<rect x="230" y="615" width="1" height="50" fill="#C0C0C0"/>
<rect x="238" y="615" width="1" height="49" fill="#C0C0C0"/>
<rect x="246" y="615" width="1" height="48" fill="#C0C0C0"/>
<rect x="254" y="615" width="1" height="56" fill="#C0C0C0"/>
<rect x="262" y="615" width="1" height="55" fill="#C0C0C0"/>
<rect x="270" y="615" width="1" height="45" fill="#C0C0C0"/>
<rect x="278" y="615" width="1" height="37" fill="#C0C0C0"/>
<rect x="286" y="615" width="1" height="28" fill="#C0C0C0"/>
<rect x="294" y="615" width="1" height="19" fill="#C0C0C0"/>
<rect x="302" y="615" width="1" height="12" fill="#C0C0C0"/>
<rect x="310" y="615" width="1" height="5" fill="#C0C0C0"/>
<rect x="318" y="612" width="1" height="4" fill="#C0C0C0"/>
<rect x="326" y="607" width="1" height="9" fill="#C0C0C0"/>
<rect x="334" y="603" width="1" height="13" fill="#C0C0C0"/>
<rect x="342" y="600" width="1" height="16" fill="#C0C0C0"/>
<rect x="350" y="600" width="1" height="16" fill="#C0C0C0"/>
<rect x="358" y="599" width="1" height="17" fill="#C0C0C0"/>
<rect x="366" y="600" width="1" height="16" fill="#C0C0C0"/>
<rect x="374" y="601" width="1" height="15" fill="#C0C0C0"/>
<rect x="382" y="603" width="1" height="13" fill="#C0C0C0"/>
<rect x="390" y="607" width="1" height="9" fill="#C0C0C0"/>
<rect x="398" y="608" width="1" height="8" fill="#C0C0C0"/>
<rect x="406" y="614" width="1" height="2" fill="#C0C0C0"/>
<rect x="414" y="611" width="1" height="5" fill="#C0C0C0"/>
<rect x="422" y="609" width="1" height="7" fill="#C0C0C0"/>
<rect x="430" y="609" width="1" height="7" fill="#C0C0C0"/>
<rect x="438" y="610" width="1" height="6" fill="#C0C0C0"/>
<rect x="446" y="603" width="1" height="13" fill="#C0C0C0"/>
<rect x="454" y="596" width="1" height="20" fill="#C0C0C0"/>
<rect x="462" y="593" width="1" height="23" fill="#C0C0C0"/>
<rect x="470" y="591" width="1" height="25" fill="#C0C0C0"/>
<rect x="478" y="592" width="1" height="24" fill="#C0C0C0"/>
<rect x="486" y="591" width="1" height="25" fill="#C0C0C0"/>
<rect x="494" y="600" width="1" height="16" fill="#C0C0C0"/>
<rect x="502" y="609" width="1" height="7" fill="#C0C0C0"/>
<rect x="510" y="615" width="1" height="2" fill="#C0C0C0"/>
<rect x="518" y="615" width="1" height="7" fill="#C0C0C0"/>
<rect x="526" y="615" width="1" height="14" fill="#C0C0C0"/>
<rect x="534" y="615" width="1" height="15" fill="#C0C0C0"/>
<rect x="542" y="615" width="1" height="18" fill="#C0C0C0"/>
<rect x="550" y="615" width="1" height="18" fill="#C0C0C0"/>
<rect x="558" y="615" width="1" height="16" fill="#C0C0C0"/>
<rect x="566" y="615" width="1" height="13" fill="#C0C0C0"/>
<rect x="574" y="615" width="1" height="12" fill="#C0C0C0"/>
<rect x="582" y="615" width="1" height="9" fill="#C0C0C0"/>
<rect x="590" y="615" width="1" height="6" fill="#C0C0C0"/>
<rect x="598" y="615" width="1" height="8" fill="#C0C0C0"/>
<rect x="606" y="615" width="1" height="7" fill="#C0C0C0"/>
<rect x="614" y="615" width="1" height="5" fill="#C0C0C0"/>
<rect x="622" y="615" width="1" height="3" fill="#C0C0C0"/>
<rect x="630" y="613" width="1" height="3" fill="#C0C0C0"/>
<rect x="638" y="613" width="1" height="3" fill="#C0C0C0"/>
<rect x="646" y="615" width="1" height="3" fill="#C0C0C0"/>
<rect x="654" y="615" width="1" height="8" fill="#C0C0C0"/>
<rect x="662" y="615" width="1" height="10" fill="#C0C0C0"/>
<rect x="670" y="615" width="1" height="12" fill="#C0C0C0"/>
<rect x="678" y="615" width="1" height="14" fill="#C0C0C0"/>
<rect x="686" y="615" width="1" height="19" fill="#C0C0C0"/>
<rect x="694" y="615" width="1" height="24" fill="#C0C0C0"/>
<rect x="702" y="615" width="1" height="25" fill="#C0C0C0"/>
<rect x="710" y="615" width="1" height="27" fill="#C0C0C0"/>
<rect x="718" y="615" width="1" height="25" fill="#C0C0C0"/>
<rect x="726" y="615" width="1" height="24" fill="#C0C0C0"/>
<rect x="734" y="615" width="1" height="22" fill="#C0C0C0"/>
<rect x="742" y="615" width="1" height="21" fill="#C0C0C0"/>
<rect x="750" y="615" width="1" height="19" fill="#C0C0C0"/>
<rect x="758" y="615" width="1" height="17" fill="#C0C0C0"/>
<rect x="766" y="615" width="1" height="14" fill="#C0C0C0"/>
<rect x="774" y="615" width="1" height="13" fill="#C0C0C0"/>
<rect x="782" y="615" width="1" height="8" fill="#C0C0C0"/>
<rect x="790" y="615" width="1" height="6" fill="#C0C0C0"/>
<rect x="798" y="615" width="1" height="7" fill="#C0C0C0"/>
<rect x="806" y="615" width="1" height="7" fill="#C0C0C0"/>
<rect x="814" y="615" width="1" height="4" fill="#C0C0C0"/>
<rect x="822" y="615" width="1" height="1" fill="#C0C0C0"/>
<rect x="830" y="615" width="1" height="2" fill="#C0C0C0"/>
<rect x="838" y="615" width="1" height="3" fill="#C0C0C0"/>
<rect x="846" y="615" width="1" height="3" fill="#C0C0C0"/>
<rect x="854" y="615" width="1" height="1" fill="#C0C0C0"/>
<rect x="862" y="615" width="1" height="1" fill="#C0C0C0"/>
<rect x="870" y="615" width="1" height="4" fill="#C0C0C0"/>
<rect x="878" y="615" width="1" height="2" fill="#C0C0C0"/>
<rect x="886" y="615" width="1" height="1" fill="#C0C0C0"/>
<rect x="894" y="615" width="1" height="1" fill="#C0C0C0"/>
<rect x="902" y="614" width="1" height="2" fill="#C0C0C0"/>
<rect x="910" y="613" width="1" height="3" fill="#C0C0C0"/>
<rect x="918" y="611" width="1" height="5" fill="#C0C0C0"/>
<rect x="926" y="607" width="1" height="9" fill="#C0C0C0"/>
<rect x="934" y="607" width="1" height="9" fill="#C0C0C0"/>
<rect x="942" y="604" width="1" height="12" fill="#C0C0C0"/>
<rect x="950" y="601" width="1" height="15" fill="#C0C0C0"/>
<rect x="958" y="599" width="1" height="17" fill="#C0C0C0"/>
<rect x="966" y="599" width="1" height="17" fill="#C0C0C0"/>
<rect x="974" y="598" width="1" height="18" fill="#C0C0C0"/>
<rect x="982" y="599" width="1" height="17" fill="#C0C0C0"/>
<rect x="990" y="600" width="1" height="16" fill="#C0C0C0"/>
<rect x="998" y="602" width="1" height="14" fill="#C0C0C0"/>
<rect x="1006" y="607" width="1" height="9" fill="#C0C0C0"/>
<rect x="1014" y="615" width="1" height="3" fill="#C0C0C0"/>
<rect x="1022" y="615" width="1" height="10" fill="#C0C0C0"/>
<rect x="1030" y="615" width="1" height="14" fill="#C0C0C0"/>
<rect x="1038" y="615" width="1" height="17" fill="#C0C0C0"/>
<rect x="1046" y="615" width="1" height="18" fill="#C0C0C0"/>
<rect x="1054" y="615" width="1" height="19" fill="#C0C0C0"/>
<rect x="1062" y="615" width="1" height="22" fill="#C0C0C0"/>
<rect x="1070" y="615" width="1" height="26" fill="#C0C0C0"/>
<rect x="1078" y="615" width="1" height="27" fill="#C0C0C0"/>
<rect x="1086" y="615" width="1" height="30" fill="#C0C0C0"/>
<rect x="1094" y="615" width="1" height="32" fill="#C0C0C0"/>
<rect x="1102" y="615" width="1" height="31" fill="#C0C0C0"/>
<rect x="1110" y="615" width="1" height="31" fill="#C0C0C0"/>
<rect x="1118" y="615" width="1" height="32" fill="#C0C0C0"/>
<polyline points="5,586.5 6.5,587.0 14.5,589.8 22.5,590.1 30.5,590.5 38.5,590.5 46.5,590.5 54.5,590.3 62.5,589.5 70.5,588.5 78.5,587.2 86.5,591.3 94.5,593.9 102.5,596.9 110.5,600.7 118.5,605.0 126.5,609.8 134.5,614.4 142.5,618.4 150.5,621.7 158.5,624.7 166.5,627.6 174.5,631.1 182.5,635.1 190.5,639.4 198.5,643.6 206.5,647.4 214.5,651.2 222.5,655.0 230.5,658.0 238.5,660.5 246.5,662.0 254.5,663.6 262.5,664.7 270.5,664.3 278.5,663.1 286.5,660.7 294.5,657.3 302.5,653.2 310.5,648.2 318.5,642.7 326.5,635.8 334.5,628.5 342.5,622.0 350.5,616.4 358.5,611.6 366.5,607.9 374.5,605.2 382.5,603.4 390.5,602.9 398.5,603.0 406.5,604.2 414.5,605.4 422.5,606.4 430.5,607.5 438.5,608.6 446.5,608.7 454.5,608.0 462.5,606.5 470.5,604.6 478.5,602.2 486.5,600.0 494.5,599.0 502.5,599.0 510.5,599.8 518.5,601.8 526.5,605.2 534.5,609.3 542.5,613.8 550.5,618.2 558.5,622.4 566.5,625.4 574.5,627.3 582.5,628.0 590.5,627.9 598.5,627.2 606.5,626.3 614.5,625.0 622.5,623.3 630.5,621.4 638.5,619.8 646.5,618.8 654.5,618.7 662.5,619.2 670.5,619.7 678.5,620.4 686.5,621.9 694.5,624.3 702.5,627.2 710.5,630.3 718.5,632.7 726.5,634.5 734.5,635.8 742.5,636.8 750.5,637.4 758.5,637.1 766.5,636.0 774.5,634.7 782.5,632.6 790.5,630.5 798.5,628.5 806.5,626.8 814.5,625.0 822.5,623.1 830.5,621.5 838.5,620.3 846.5,619.2 854.5,618.5 862.5,617.8 870.5,617.5 878.5,616.9 886.5,616.5 894.5,616.4 902.5,616.2 910.5,615.7 918.5,615.1 926.5,614.2 934.5,613.3 942.5,611.8 950.5,610.2 958.5,608.4 966.5,606.7 974.5,604.8 982.5,603.3 990.5,602.1 998.5,601.5 1006.5,601.5 1014.5,602.9 1022.5,605.5 1030.5,608.6 1038.5,612.2 1046.5,616.0 1054.5,619.7 1062.5,623.7 1070.5,627.8 1078.5,631.6 1086.5,634.7 1094.5,637.1 1102.5,639.0 1110.5,640.6 1118.5,642.2" fill="none" stroke="#FF0000" stroke-width="1" stroke-dasharray="3 3"/>
</g>
<g clip-path="url(#cr)">
<line x1="7" y1="718.5" x2="1421" y2="718.5" stroke="#C0C0C0" stroke-dasharray="3 3"/>
<line x1="7" y1="769.5" x2="1421" y2="769.5" stroke="#C0C0C0" stroke-dasharray="3 3"/>
<polyline points="6.5,742.1 14.5,731.3 22.5,728.7 30.5,732.6 38.5,724.1 46.5,726.6 54.5,730.6 62.5,743.9 70.5,748.1 78.5,751.5 86.5,755.3 94.5,753.1 102.5,749.4 110.5,748.6 118.5,747.6 126.5,754.5 134.5,754.9 142.5,754.7 150.5,751.9 158.5,763.4 166.5,762.3 174.5,770.4 182.5,769.7 190.5,770.9 198.5,768.6 206.5,761.8 214.5,767.0 222.5,763.8 230.5,764.2 238.5,765.1 246.5,761.7 254.5,776.8 262.5,758.4 270.5,742.8 278.5,741.9 286.5,739.5 294.5,736.9 302.5,735.8 310.5,734.3 318.5,731.7 326.5,733.0 334.5,733.4 342.5,732.2 350.5,739.6 358.5,736.6 366.5,741.2 374.5,741.8 382.5,743.0 390.5,750.4 398.5,744.7 406.5,754.3 414.5,739.4 422.5,739.5 430.5,741.8 438.5,743.6 446.5,729.5 454.5,727.4 462.5,731.9 470.5,732.1 478.5,739.1 486.5,734.5 494.5,754.0 502.5,755.9 510.5,756.8 518.5,754.2 526.5,758.8 534.5,751.7 542.5,753.4 550.5,751.1 558.5,745.0 566.5,744.3 574.5,746.8 582.5,740.6 590.5,740.5 598.5,750.7 606.5,746.0 614.5,742.4 622.5,739.9 630.5,736.5 638.5,744.8 646.5,752.0 654.5,756.0 662.5,751.0 670.5,752.4 678.5,752.9 686.5,760.6 694.5,761.6 702.5,756.3 710.5,757.9 718.5,750.4 726.5,752.2 734.5,747.3 742.5,750.6 750.5,746.8 758.5,747.2 766.5,743.9 774.5,746.5 782.5,737.1 790.5,743.2 798.5,747.8 806.5,748.1 814.5,740.5 822.5,736.8 830.5,747.9 838.5,748.0 846.5,744.3 854.5,741.5 862.5,742.7 870.5,752.5 878.5,740.9 886.5,742.6 894.5,744.0 902.5,744.1 910.5,739.7 918.5,738.6 926.5,731.0 934.5,741.5 942.5,733.0 950.5,733.6 958.5,733.0 966.5,735.6 974.5,733.9 982.5,740.6 990.5,740.4 998.5,744.0 1006.5,752.3 1014.5,765.8 1022.5,764.6 1030.5,758.8 1038.5,758.4 1046.5,754.5 1054.5,755.9 1062.5,762.2 1070.5,765.4 1078.5,758.8 1086.5,765.5 1094.5,760.2 1102.5,756.1 1110.5,759.2 1118.5,760.5" fill="none" stroke="#1E90FF" stroke-width="1"/>
</g>
<text x="10" y="585" font-size="10" fill="#000" stroke="#000" stroke-width="0.2" textLength="154" lengthAdjust="spacingAndGlyphs">MACD(12,26,9) -0.003354 -0.002903</text>
<text x="10" y="691" font-size="10" fill="#000" stroke="#000" stroke-width="0.2" textLength="68" lengthAdjust="spacingAndGlyphs">RSI(14) 37.3505</text>
<polygon points="9,41 16,41 12.5,37" fill="#000" shape-rendering="geometricPrecision"/>
<text x="21.5" y="42" font-size="10" fill="#000" stroke="#000" stroke-width="0.2" textLength="68" lengthAdjust="spacingAndGlyphs">AUDUSD-,Daily</text>
<text x="96" y="42" font-size="10" fill="#000" stroke="#000" stroke-width="0.2" textLength="140" lengthAdjust="spacingAndGlyphs">0.69912 0.69921 0.69731 0.69829</text>
<defs><linearGradient id="gs" x1="0" y1="0" x2="0" y2="1"><stop offset="0" stop-color="#4848E8"/><stop offset="1" stop-color="#2A2ADA"/></linearGradient><linearGradient id="gb" x1="0" y1="0" x2="0" y2="1"><stop offset="0" stop-color="#2E2EE0"/><stop offset="1" stop-color="#0000B0"/></linearGradient></defs>
<rect x="7" y="48" width="223" height="68" fill="#FFFFFF"/>
<rect x="9" y="50" width="52" height="24" fill="url(#gs)"/>
<rect x="9" y="74" width="109" height="40" fill="url(#gb)"/>
<rect x="176" y="50" width="52" height="24" fill="url(#gs)"/>
<rect x="120" y="74" width="108" height="40" fill="url(#gb)"/>
<rect x="13" y="74" width="44" height="1" fill="#7A7AF0"/>
<rect x="180" y="74" width="44" height="1" fill="#7A7AF0"/>
<rect x="63" y="50" width="111" height="23" fill="#A9A9A9"/>
<rect x="64" y="51" width="109" height="21" fill="#FFFFFF"/>
<defs><linearGradient id="gbtn" x1="0" y1="0" x2="0" y2="1"><stop offset="0" stop-color="#F2F2F2"/><stop offset="0.45" stop-color="#E6E6E6"/><stop offset="0.55" stop-color="#D8D8D8"/><stop offset="1" stop-color="#D0D0D0"/></linearGradient></defs>
<rect x="64" y="51" width="20" height="21" fill="#FFFFFF"/>
<rect x="152" y="51" width="21" height="21" fill="#FFFFFF"/>
<rect x="65" y="52" width="18" height="19" fill="url(#gbtn)"/>
<rect x="154" y="52" width="18" height="19" fill="url(#gbtn)"/>
<rect x="84" y="51" width="1" height="21" fill="#A9A9A9"/>
<rect x="152" y="51" width="1" height="21" fill="#A9A9A9"/>
<polygon points="70.5,59.5 75.5,59.5 73,62" fill="#6A78B0" shape-rendering="geometricPrecision"/>
<polygon points="159.5,62 164.5,62 162,59.5" fill="#6A78B0" shape-rendering="geometricPrecision"/>
<text x="125.5" y="65" font-size="12.5" fill="#000" textLength="23" lengthAdjust="spacingAndGlyphs">1.00</text>
<text x="20.5" y="66" font-size="13" fill="#E8E8FF" textLength="27" lengthAdjust="spacingAndGlyphs">SELL</text>
<text x="189" y="66" font-size="13" fill="#E8E8FF" textLength="24.5" lengthAdjust="spacingAndGlyphs">BUY</text>
<text x="29" y="105" font-size="12" font-weight="bold" fill="#fff" textLength="24" lengthAdjust="spacingAndGlyphs">0.69</text>
<text x="56" y="105" font-size="33.5" fill="#fff" textLength="35.5" lengthAdjust="spacingAndGlyphs">82</text>
<text x="96.5" y="89" font-size="12" font-weight="bold" fill="#fff">9</text>
<text x="139" y="105" font-size="12" font-weight="bold" fill="#fff" textLength="24" lengthAdjust="spacingAndGlyphs">0.69</text>
<text x="167" y="105" font-size="33.5" fill="#fff" textLength="35.5" lengthAdjust="spacingAndGlyphs">84</text>
<text x="207.5" y="89" font-size="12" font-weight="bold" fill="#fff">7</text>
<rect x="3" y="822" width="1460" height="7" fill="#FFFFFF"/>
<rect x="0" y="829" width="1463" height="1" fill="#E3E3E3"/>
<rect x="0" y="830" width="1463" height="1" fill="#FFFFFF"/>
<rect x="0" y="831" width="1463" height="1" fill="#000000"/>
<rect x="0" y="832" width="1463" height="19" fill="#F0F0F0"/>
<rect x="0" y="851" width="1463" height="1" fill="#FFFFFF"/>
<rect x="0" y="852" width="1463" height="3" fill="#F0F0F0"/>
<rect x="0" y="855" width="1463" height="1" fill="#A0A0A0"/>
<rect x="1" y="831" width="1" height="19" fill="#A0A0A0"/>
<rect x="115" y="832" width="108" height="17" fill="#FFFFFF"/>
<rect x="115" y="831" width="1" height="19" fill="#000"/>
<rect x="222" y="831" width="1" height="19" fill="#000"/>
<rect x="115" y="849" width="108" height="1" fill="#000"/>
<text x="18.5" y="846" font-size="13" fill="#7A7A7A" textLength="84" lengthAdjust="spacingAndGlyphs">EURUSD-,Daily</text>
<text x="125" y="846" font-size="13" fill="#000" textLength="87" lengthAdjust="spacingAndGlyphs">AUDUSD-,Daily</text>
<text x="235.2" y="846" font-size="13" fill="#7A7A7A" textLength="83.7" lengthAdjust="spacingAndGlyphs">USDCHF-,Daily</text>
<text x="341.8" y="846" font-size="13" fill="#7A7A7A" textLength="86.2" lengthAdjust="spacingAndGlyphs">USDCAD-,Daily</text>
<text x="451.2" y="846" font-size="13" fill="#7A7A7A" textLength="87.8" lengthAdjust="spacingAndGlyphs">USDCNH-,Daily</text>
<text x="562.3" y="846" font-size="13" fill="#7A7A7A" textLength="96.7" lengthAdjust="spacingAndGlyphs">EURCHF-,Weekly</text>
<rect x="331" y="835" width="1" height="13" fill="#808080"/>
<rect x="440" y="835" width="1" height="13" fill="#808080"/>
<rect x="551" y="835" width="1" height="13" fill="#808080"/>
<rect x="671" y="835" width="1" height="13" fill="#808080"/>
<polygon points="1437,840 1440.5,836.5 1440.5,843.5" fill="#9A9A9A" shape-rendering="geometricPrecision"/>
<polygon points="1459.5,840 1456,836.5 1456,843.5" fill="#9A9A9A" shape-rendering="geometricPrecision"/>
</svg></body></html>
